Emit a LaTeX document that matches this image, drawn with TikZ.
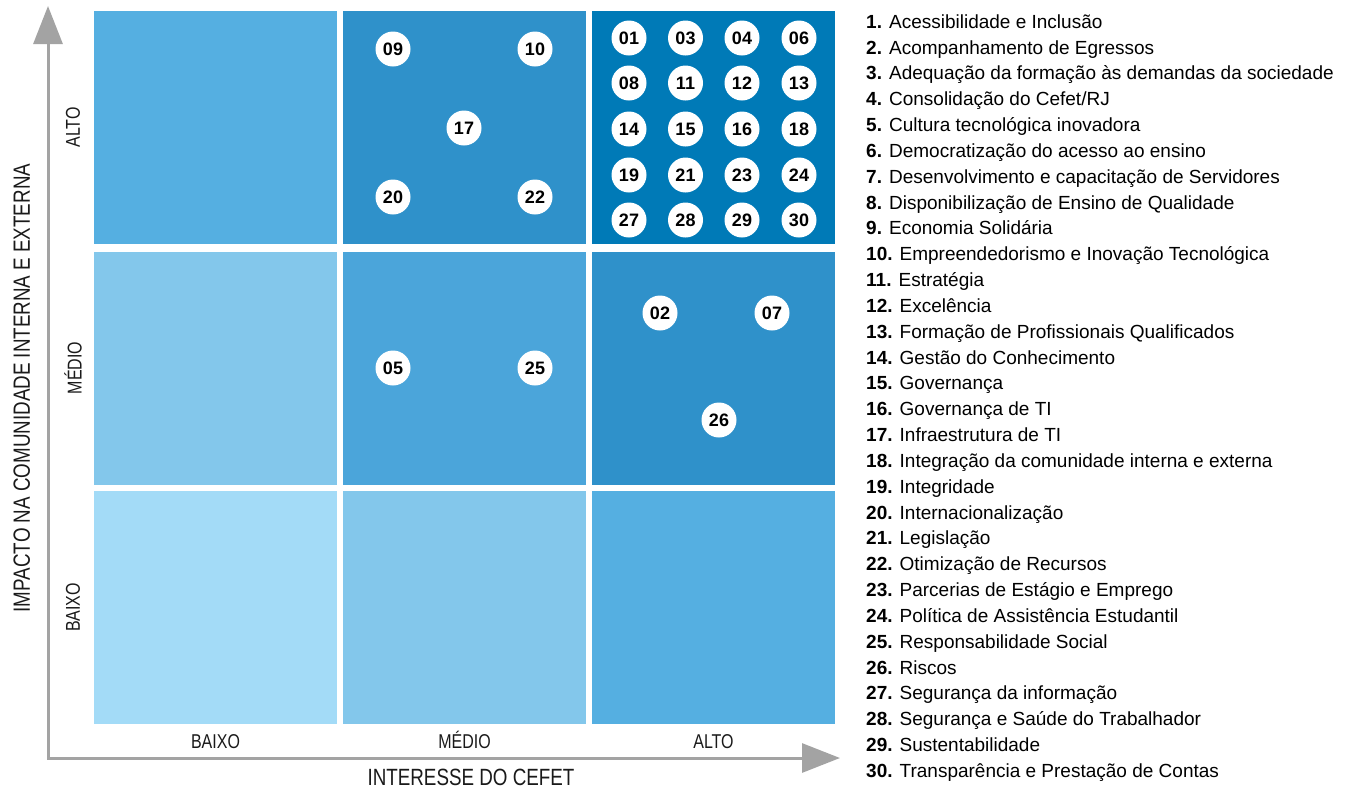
\documentclass[tikz,border=0pt]{standalone}
\usepackage{fontspec}
\setmainfont{Liberation Sans}
\newfontfamily\axisfont{Liberation Sans}[FakeStretch=0.8]
\usetikzlibrary{arrows.meta}
\definecolor{cA}{HTML}{A3DBF7}
\definecolor{cB}{HTML}{83C7EB}
\definecolor{cC}{HTML}{55AFE1}
\definecolor{cD}{HTML}{4BA5DA}
\definecolor{cE}{HTML}{2F91CA}
\definecolor{cF}{HTML}{007AB7}
\definecolor{axisgray}{HTML}{A3A3A3}
\definecolor{txt}{HTML}{1A1A1A}
\tikzset{
  cell/.style={draw=none, inner sep=0pt, minimum width=243pt, minimum height=233pt},
  dot/.style={circle, fill=white, draw=none, inner sep=0pt, minimum size=35pt, text=black,
    font=\fontsize{18}{20}\selectfont\bfseries},
  axisline/.style={draw=axisgray, line width=3pt, {Triangle[length=38pt,width=29pt]}-{Triangle[length=38pt,width=29pt]}},
  lvl/.style={font=\axisfont\fontsize{20}{22}\selectfont, text=txt, inner sep=0pt},
  axtitle/.style={font=\axisfont\fontsize{23.5}{25}\selectfont, text=txt, inner sep=0pt},
  leg/.style={anchor=base west, inner sep=0pt, text=black, font=\fontsize{19}{21}\selectfont}
}
\begin{document}
\begin{tikzpicture}[x=1pt,y=-1pt]
\useasboundingbox (0,0) rectangle (1345,788);
% cells
\node[cell, fill=cC] (c11) at (215.5,127.5) {};
\node[cell, fill=cE] (c21) at (464.5,127.5) {};
\node[cell, fill=cF] (c31) at (713.5,127.5) {};
\node[cell, fill=cB] (c12) at (215.5,368) {};
\node[cell, fill=cD] (c22) at (464.5,368) {};
\node[cell, fill=cE] (c32) at (713.5,368) {};
\node[cell, fill=cA] (c13) at (215.5,607.5) {};
\node[cell, fill=cB] (c23) at (464.5,607.5) {};
\node[cell, fill=cC] (c33) at (713.5,607.5) {};
% axes
\coordinate (ytip) at (48,6);
\coordinate (corner) at (48,758);
\coordinate (xtip) at (840,758);
\draw[axisline] (ytip) -- (corner) -- (xtip);
% level labels
\node[lvl, rotate=90] (yl1) at (73,127.5) {ALTO};
\node[lvl, rotate=90] (yl2) at (73,368) {MÉDIO};
\node[lvl, rotate=90] (yl3) at (73,607.5) {BAIXO};
\node[lvl, anchor=base] (xl1) at (215.5,748) {BAIXO};
\node[lvl, anchor=base] (xl2) at (464.5,748) {MÉDIO};
\node[lvl, anchor=base] (xl3) at (713.5,748) {ALTO};
% axis titles
\node[axtitle, rotate=90, anchor=base] (ytitle) at (30,388) {IMPACTO NA COMUNIDADE INTERNA E EXTERNA};
\node[axtitle, anchor=base] (xtitle) at (471,785) {INTERESSE DO CEFET};
% circles high/high
\node[dot] (n01) at (629,38) {01};
\node[dot] (n03) at (685.5,38) {03};
\node[dot] (n04) at (742,38) {04};
\node[dot] (n06) at (799,38) {06};
\node[dot] (n08) at (629,83) {08};
\node[dot] (n11) at (685.5,83) {11};
\node[dot] (n12) at (742,83) {12};
\node[dot] (n13) at (799,83) {13};
\node[dot] (n14) at (629,129) {14};
\node[dot] (n15) at (685.5,129) {15};
\node[dot] (n16) at (742,129) {16};
\node[dot] (n18) at (799,129) {18};
\node[dot] (n19) at (629,175) {19};
\node[dot] (n21) at (685.5,175) {21};
\node[dot] (n23) at (742,175) {23};
\node[dot] (n24) at (799,175) {24};
\node[dot] (n27) at (629,220) {27};
\node[dot] (n28) at (685.5,220) {28};
\node[dot] (n29) at (742,220) {29};
\node[dot] (n30) at (799,220) {30};
% medium interest / high impact
\node[dot] (n09) at (393,49) {09};
\node[dot] (n10) at (535,49) {10};
\node[dot] (n17) at (464,128) {17};
\node[dot] (n20) at (393,197) {20};
\node[dot] (n22) at (535,197) {22};
% medium impact
\node[dot] (n02) at (660,313) {02};
\node[dot] (n07) at (772,313) {07};
\node[dot] (n26) at (719,420) {26};
\node[dot] (n05) at (393,368) {05};
\node[dot] (n25) at (535,368) {25};
% legend
\node[leg] (l1) at (866,28.3) {\textbf{1.} Acessibilidade e Inclusão};
\node[leg] (l2) at (866,54.13) {\textbf{2.} Acompanhamento de Egressos};
\node[leg] (l3) at (866,79.96) {\textbf{3.} Adequação da formação às demandas da sociedade};
\node[leg] (l4) at (866,105.79) {\textbf{4.} Consolidação do Cefet/RJ};
\node[leg] (l5) at (866,131.62) {\textbf{5.} Cultura tecnológica inovadora};
\node[leg] (l6) at (866,157.45) {\textbf{6.} Democratização do acesso ao ensino};
\node[leg] (l7) at (866,183.28) {\textbf{7.} Desenvolvimento e capacitação de Servidores};
\node[leg] (l8) at (866,209.11) {\textbf{8.} Disponibilização de Ensino de Qualidade};
\node[leg] (l9) at (866,234.94) {\textbf{9.} Economia Solidária};
\node[leg] (l10) at (866,260.77) {\textbf{10.} Empreendedorismo e Inovação Tecnológica};
\node[leg] (l11) at (866,286.6) {\textbf{11.} Estratégia};
\node[leg] (l12) at (866,312.43) {\textbf{12.} Excelência};
\node[leg] (l13) at (866,338.26) {\textbf{13.} Formação de Profissionais Qualificados};
\node[leg] (l14) at (866,364.09) {\textbf{14.} Gestão do Conhecimento};
\node[leg] (l15) at (866,389.92) {\textbf{15.} Governança};
\node[leg] (l16) at (866,415.75) {\textbf{16.} Governança de TI};
\node[leg] (l17) at (866,441.58) {\textbf{17.} Infraestrutura de TI};
\node[leg] (l18) at (866,467.41) {\textbf{18.} Integração da comunidade interna e externa};
\node[leg] (l19) at (866,493.24) {\textbf{19.} Integridade};
\node[leg] (l20) at (866,519.07) {\textbf{20.} Internacionalização};
\node[leg] (l21) at (866,544.9) {\textbf{21.} Legislação};
\node[leg] (l22) at (866,570.73) {\textbf{22.} Otimização de Recursos};
\node[leg] (l23) at (866,596.56) {\textbf{23.} Parcerias de Estágio e Emprego};
\node[leg] (l24) at (866,622.39) {\textbf{24.} Política de Assistência Estudantil};
\node[leg] (l25) at (866,648.22) {\textbf{25.} Responsabilidade Social};
\node[leg] (l26) at (866,674.05) {\textbf{26.} Riscos};
\node[leg] (l27) at (866,699.88) {\textbf{27.} Segurança da informação};
\node[leg] (l28) at (866,725.71) {\textbf{28.} Segurança e Saúde do Trabalhador};
\node[leg] (l29) at (866,751.54) {\textbf{29.} Sustentabilidade};
\node[leg] (l30) at (866,777.37) {\textbf{30.} Transparência e Prestação de Contas};
\end{tikzpicture}
\end{document}
